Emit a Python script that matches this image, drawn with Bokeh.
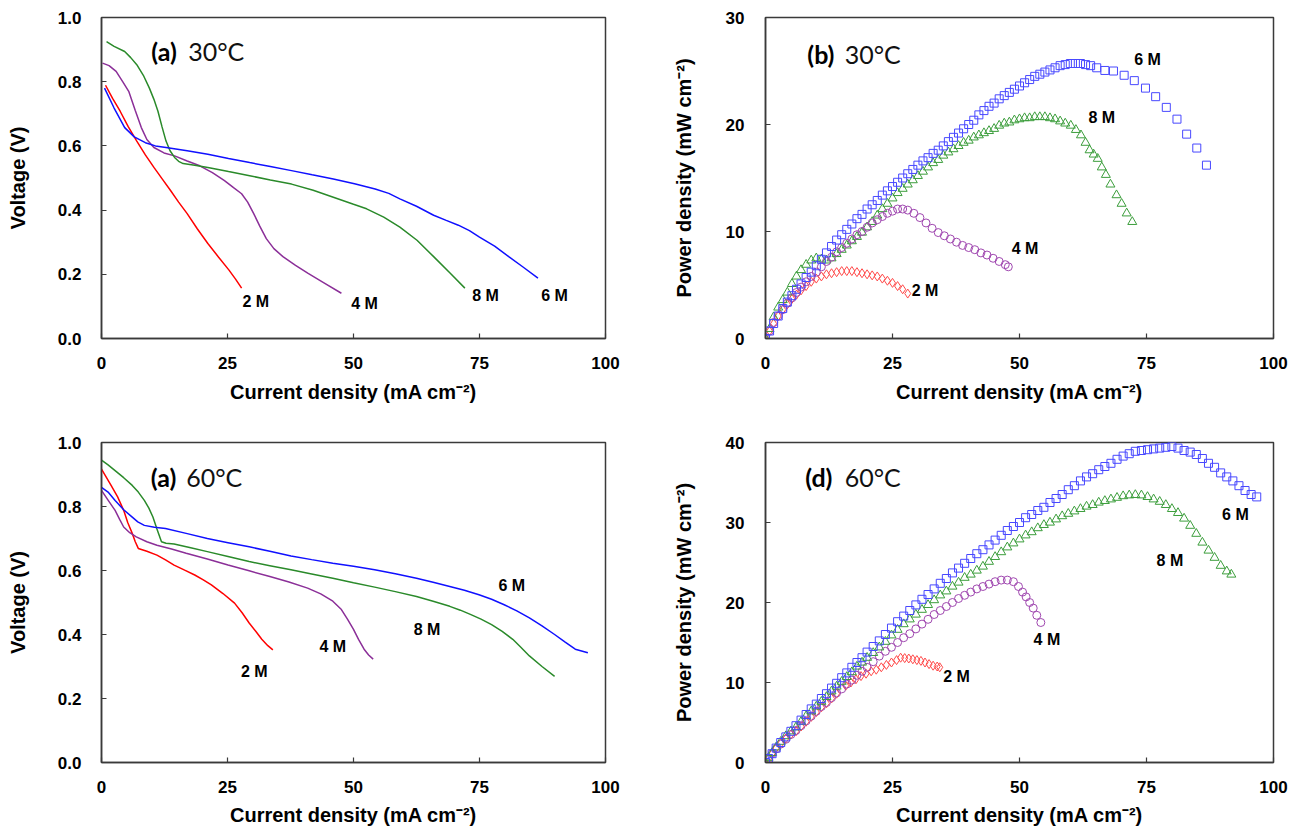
from bokeh.plotting import figure
from bokeh.layouts import column, row
from bokeh.models import Range1d, FixedTicker, PrintfTickFormatter
from bokeh.core.properties import value
from bokeh.embed import file_html
from bokeh.resources import INLINE

# ---------------- data: panel (a) 30 C, voltage curves ----------------
A30_2M_J = [0.8, 2.2, 3.7, 5.3, 7.0, 8.7, 10.4, 12.0, 13.7, 15.3, 17.0, 19.0, 21.1, 23.2, 25.3, 26.6, 27.8]
A30_2M_V = [0.789, 0.748, 0.708, 0.660, 0.615, 0.572, 0.533, 0.498, 0.461, 0.425, 0.389, 0.342, 0.296, 0.254, 0.213, 0.185, 0.157]
A30_4M_J = [0.2, 1.5, 2.9, 4.2, 5.4, 6.7, 7.9, 9.0, 10.4, 12.4, 14.5, 17.0, 19.5, 22.0, 24.4, 26.2, 27.8,
            29.0, 30.2, 31.4, 32.7, 34.2, 36.0, 38.5, 41.0, 44.3, 47.6]
A30_4M_V = [0.858, 0.850, 0.832, 0.800, 0.770, 0.710, 0.657, 0.620, 0.595, 0.578, 0.569, 0.553, 0.538, 0.517,
            0.492, 0.470, 0.451, 0.425, 0.389, 0.350, 0.311, 0.280, 0.255, 0.228, 0.203, 0.172, 0.141]
A30_6M_J = [0.6, 2.5, 4.6, 6.5, 8.7, 10.7, 12.8, 17.0, 21.1, 25.2, 29.4, 33.5, 37.7, 41.8, 46.0, 50.2, 54.3,
            57.0, 59.2, 62.5, 65.9, 68.4, 70.8, 73.0, 75.0, 78.0, 80.8, 83.7, 86.6]
A30_6M_V = [0.780, 0.718, 0.657, 0.628, 0.610, 0.600, 0.595, 0.585, 0.574, 0.561, 0.548, 0.536, 0.523, 0.510,
            0.497, 0.482, 0.466, 0.452, 0.435, 0.412, 0.384, 0.368, 0.353, 0.336, 0.316, 0.288, 0.255, 0.222, 0.188]
A30_8M_J = [1.0, 2.5, 4.6, 5.8, 7.0, 8.3, 9.5, 10.4, 11.2, 12.0, 12.8, 13.6, 14.5, 15.3, 16.2, 18.5, 21.1,
            25.2, 29.4, 33.5, 37.7, 42.0, 46.0, 50.0, 52.6, 56.0, 59.2, 62.6, 65.9, 69.2, 72.1]
A30_8M_V = [0.925, 0.910, 0.894, 0.875, 0.853, 0.820, 0.780, 0.745, 0.708, 0.660, 0.615, 0.585, 0.564, 0.552,
            0.545, 0.540, 0.533, 0.520, 0.507, 0.494, 0.481, 0.462, 0.440, 0.418, 0.404, 0.378, 0.347, 0.306,
            0.255, 0.203, 0.157]

# ---------------- data: panel (c) 60 C, voltage curves ----------------
C60_2M_J = [0.0, 1.9, 3.2, 4.4, 5.2, 6.1, 6.7, 7.3, 9.0, 11.0, 12.7, 14.4, 16.5, 18.5, 20.2, 21.8, 24.1,
            26.4, 27.9, 29.3, 30.6, 31.8, 33.0, 34.0]
C60_2M_V = [0.917, 0.866, 0.830, 0.788, 0.750, 0.716, 0.690, 0.669, 0.660, 0.648, 0.633, 0.617, 0.601, 0.586,
            0.571, 0.555, 0.528, 0.498, 0.468, 0.436, 0.410, 0.385, 0.365, 0.352]
C60_4M_J = [0.0, 1.3, 2.7, 3.6, 4.4, 5.6, 6.9, 9.0, 11.0, 13.9, 16.8, 21.0, 25.1, 29.3, 33.4, 37.2, 40.9,
            43.5, 45.9, 47.6, 48.8, 50.0, 51.0, 52.1, 53.0, 53.9]
C60_4M_V = [0.850, 0.820, 0.788, 0.760, 0.736, 0.718, 0.705, 0.690, 0.679, 0.667, 0.654, 0.636, 0.617, 0.599,
            0.581, 0.564, 0.545, 0.527, 0.504, 0.478, 0.448, 0.416, 0.385, 0.354, 0.336, 0.323]
C60_6M_J = [0.0, 1.3, 2.7, 4.4, 6.1, 7.2, 8.5, 10.5, 12.7, 16.8, 21.0, 25.1, 29.3, 33.4, 37.6, 41.7, 45.9,
            50.0, 54.2, 58.3, 62.5, 65.8, 69.1, 72.0, 74.9, 77.4, 79.9, 82.4, 84.9, 87.4, 89.9, 92.0, 94.0, 96.5]
C60_6M_V = [0.860, 0.845, 0.819, 0.790, 0.767, 0.752, 0.741, 0.735, 0.731, 0.716, 0.700, 0.687, 0.674, 0.660,
            0.645, 0.634, 0.623, 0.613, 0.602, 0.590, 0.576, 0.563, 0.550, 0.538, 0.524, 0.510, 0.493, 0.474,
            0.452, 0.427, 0.400, 0.376, 0.354, 0.343]
C60_8M_J = [0.0, 1.3, 2.7, 4.4, 6.1, 7.3, 8.5, 9.4, 10.2, 11.0, 11.9, 12.8, 14.4, 17.7, 21.0, 25.1, 29.3,
            33.4, 37.6, 41.7, 45.9, 50.0, 54.2, 58.3, 62.5, 65.8, 69.1, 71.2, 73.3, 75.3, 77.4, 79.5, 81.6,
            83.2, 84.9, 87.4, 89.9]
C60_8M_V = [0.945, 0.930, 0.912, 0.890, 0.866, 0.845, 0.819, 0.795, 0.767, 0.730, 0.690, 0.685, 0.683, 0.671,
            0.659, 0.644, 0.628, 0.615, 0.602, 0.589, 0.576, 0.562, 0.548, 0.534, 0.519, 0.504, 0.488, 0.476,
            0.462, 0.448, 0.431, 0.410, 0.385, 0.360, 0.333, 0.300, 0.269]

# ---------------- data: panel (b) 30 C, power density markers ----------------
B30_2M_J = [0, 0.8, 1.6, 2.5, 3.4, 4.3, 5.2, 6.1, 7.0, 8.0, 9.0, 10.0, 11.0, 12.0, 13.0, 14.0, 15.0,
            16.0, 17.0, 18.0, 19.0, 20.0, 21.0, 22.0, 23.0, 24.0, 25.0, 26.0, 27.0, 28.0]
B30_2M_P = [0, 0.7, 1.4, 2.1, 2.7, 3.2, 3.7, 4.1, 4.5, 4.9, 5.3, 5.6, 5.8, 6.0, 6.1, 6.2, 6.3,
            6.3, 6.3, 6.2, 6.1, 6.0, 5.9, 5.8, 5.6, 5.4, 5.2, 4.9, 4.6, 4.2]
B30_4M_J = [0, 0.8, 1.6, 2.5, 3.4, 4.3, 5.2, 6.1, 7.0, 8.0, 9.0, 10.0, 11.0, 12.0, 13.0, 14.0, 15.0, 16.0,
            17.0, 18.0, 19.0, 20.0, 21.0, 22.0, 23.0, 24.0, 25.0, 26.0, 27.0, 28.0, 29.2, 30.4, 31.6, 32.8,
            34.0, 35.2, 36.4, 37.6, 38.8, 40.0, 41.2, 42.4, 43.6, 44.8, 46.0, 47.2, 47.8]
B30_4M_P = [0, 0.7, 1.5, 2.1, 2.7, 3.3, 3.8, 4.3, 4.8, 5.3, 5.8, 6.2, 6.7, 7.2, 7.6, 8.1, 8.5, 8.9,
            9.3, 9.7, 10.0, 10.4, 10.8, 11.1, 11.4, 11.7, 11.9, 12.1, 12.1, 12.0, 11.7, 11.3, 10.8, 10.3,
            9.9, 9.6, 9.3, 9.0, 8.7, 8.5, 8.3, 8.0, 7.8, 7.5, 7.2, 6.9, 6.7]
B30_6M_J = [0, 0.8, 1.6, 2.5, 3.4, 4.3, 5.2, 6.1, 7.0, 8.0, 9.0, 10.0, 11.0, 12.0, 13.0, 14.0, 15.0, 16.0,
            17.0, 18.0, 19.0, 20.0, 21.0, 22.0, 23.0, 24.0, 25.0, 26.0, 27.0, 28.0, 29.0, 30.0, 31.0, 32.0,
            33.0, 34.0, 35.0, 36.0, 37.0, 38.0, 39.0, 40.0, 41.0, 42.0, 43.0, 44.0, 45.0, 46.0, 47.0, 48.0,
            49.0, 50.0, 51.0, 52.0, 53.0, 54.0, 55.0, 56.0, 57.0, 58.0, 59.0, 60.0, 61.0, 62.0, 63.0, 64.0,
            65.2, 66.8, 68.5, 70.6, 72.6, 74.8, 76.8, 78.9, 81.0, 82.9, 84.9, 86.8]
B30_6M_P = [0, 0.7, 1.4, 2.1, 2.8, 3.4, 4.0, 4.6, 5.1, 5.7, 6.2, 6.8, 7.4, 8.0, 8.6, 9.2, 9.7, 10.2,
            10.7, 11.2, 11.6, 12.1, 12.5, 12.9, 13.4, 13.8, 14.2, 14.6, 15.0, 15.4, 15.8, 16.2, 16.6, 16.9,
            17.3, 17.6, 18.0, 18.4, 18.8, 19.2, 19.6, 20.0, 20.4, 20.9, 21.3, 21.7, 22.0, 22.4, 22.7, 23.0,
            23.3, 23.6, 23.9, 24.2, 24.5, 24.7, 24.9, 25.1, 25.3, 25.5, 25.6, 25.7, 25.7, 25.7, 25.6, 25.5,
            25.3, 25.05, 25.0, 24.6, 24.1, 23.4, 22.6, 21.6, 20.5, 19.1, 17.8, 16.2]
B30_8M_J = [0, 0.8, 1.6, 2.5, 3.4, 4.3, 5.2, 6.1, 7.0, 8.0, 9.0, 10.0, 11.0, 12.0, 13.0, 14.0, 15.0, 16.0,
            17.0, 18.0, 19.0, 20.0, 21.0, 22.0, 23.0, 24.0, 25.0, 26.0, 27.0, 28.0, 29.0, 30.0, 31.0, 32.0,
            33.0, 34.0, 35.0, 36.0, 37.0, 38.0, 39.0, 40.0, 41.0, 42.0, 43.0, 44.0, 45.0, 46.0, 47.0, 48.0,
            49.0, 50.0, 51.0, 52.0, 53.0, 54.0, 55.0, 56.0, 57.0, 58.0, 59.0, 60.1, 61.1, 62.1, 63.0, 63.8,
            64.6, 65.4, 66.2, 67.0, 67.9, 69.1, 70.1, 71.1, 72.2]
B30_8M_P = [0, 0.9, 2.0, 2.9, 3.6, 4.3, 5.1, 5.8, 6.4, 6.9, 7.3, 7.5, 7.4, 7.3, 7.5, 7.9, 8.3, 8.7,
            9.1, 9.5, 9.9, 10.4, 10.9, 11.5, 12.1, 12.6, 13.1, 13.6, 14.0, 14.4, 14.8, 15.2, 15.6, 16.0,
            16.4, 16.7, 17.1, 17.4, 17.7, 18.0, 18.3, 18.5, 18.8, 19.0, 19.2, 19.4, 19.6, 19.9, 20.1, 20.2,
            20.4, 20.5, 20.6, 20.6, 20.7, 20.7, 20.7, 20.6, 20.5, 20.3, 20.1, 19.9, 19.5, 19.0, 18.3, 17.6,
            17.2, 16.8, 16.0, 15.3, 14.4, 13.4, 12.6, 11.7, 10.9]

# ---------------- data: panel (d) 60 C, power density markers ----------------
D60_2M_J = [0, 0.6, 1.3, 2.1, 3.0, 4.0, 5.0, 6.0, 7.0, 8.0, 9.0, 10.0, 11.0, 12.0, 13.0, 14.0, 15.8,
            16.8, 17.8, 18.8, 19.8, 20.8, 21.8, 22.8, 23.8, 24.8, 25.8, 26.6, 27.4, 28.2, 29.0, 29.8,
            30.6, 31.4, 32.2, 33.0, 33.8, 34.3]
D60_2M_P = [0, 0.5, 1.1, 1.8, 2.4, 3.0, 3.5, 3.9, 4.5, 5.1, 5.7, 6.3, 6.9, 7.4, 8.0, 8.6, 9.6,
            10.0, 10.4, 10.8, 11.1, 11.4, 11.6, 11.9, 12.2, 12.5, 12.8, 13.1, 13.05, 13.0, 12.9, 12.8,
            12.7, 12.5, 12.3, 12.1, 12.0, 11.9]
D60_4M_J = [0, 0.6, 1.3, 2.1, 3.0, 4.0, 5.0, 6.0, 7.0, 8.0, 9.0, 10.0, 11.0, 12.0, 13.0, 14.0, 15.0,
            16.0, 17.0, 18.0, 19.0, 20.0, 21.2, 22.4, 23.6, 24.8, 26.0, 27.2, 28.4, 29.6, 30.8, 32.0,
            33.2, 34.4, 35.6, 36.8, 38.0, 39.2, 40.4, 41.6, 42.8, 44.0, 45.2, 46.4, 47.6, 48.8, 49.8,
            50.6, 51.3, 52.0, 52.7, 53.4, 54.2]
D60_4M_P = [0, 0.5, 1.1, 1.7, 2.3, 2.9, 3.5, 4.0, 4.6, 5.2, 5.8, 6.4, 7.0, 7.5, 8.1, 8.7, 9.2,
            9.8, 10.3, 10.9, 11.4, 11.9, 12.6, 13.3, 13.9, 14.4, 15.0, 15.6, 16.1, 16.7, 17.3, 17.9,
            18.5, 19.0, 19.5, 20.0, 20.5, 20.9, 21.3, 21.7, 22.0, 22.3, 22.6, 22.8, 22.8, 22.6, 22.0,
            21.3, 20.7, 20.0, 19.3, 18.4, 17.5]
D60_6M_J = [0, 0.6, 1.3, 2.1, 3.0, 4.0, 5.0, 6.0, 7.0, 8.0, 9.0, 10.0, 11.0, 12.0, 13.0, 14.0, 15.0,
            16.0, 17.0, 18.0, 19.0, 20.0, 21.2, 22.4, 23.6, 24.8, 26.0, 27.2, 28.4, 29.6, 30.8, 32.0,
            33.2, 34.4, 35.6, 36.8, 38.0, 39.2, 40.4, 41.6, 42.8, 44.0, 45.2, 46.4, 47.6, 48.8, 50.0,
            51.2, 52.4, 53.6, 54.8, 56.0, 57.2, 58.4, 59.6, 60.8, 62.0, 63.2, 64.4, 65.6, 66.8, 68.0,
            69.2, 70.4, 71.6, 72.8, 74.0, 75.2, 76.4, 77.6, 78.8, 80.0, 81.2, 82.4, 83.6, 84.8, 86.0,
            87.2, 88.4, 89.6, 90.8, 92.0, 93.2, 94.4, 95.6, 96.7]
D60_6M_P = [0, 0.5, 1.1, 1.8, 2.5, 3.2, 3.9, 4.6, 5.3, 6.0, 6.7, 7.3, 8.0, 8.6, 9.3, 9.9, 10.6,
            11.2, 11.9, 12.5, 13.1, 13.8, 14.5, 15.2, 16.0, 16.8, 17.6, 18.3, 19.0, 19.7, 20.4, 21.0,
            21.7, 22.4, 23.0, 23.7, 24.3, 24.9, 25.5, 26.1, 26.6, 27.2, 27.8, 28.4, 29.0, 29.5, 30.0,
            30.6, 31.0, 31.5, 31.9, 32.5, 33.0, 33.5, 34.1, 34.6, 35.2, 35.7, 36.1, 36.6, 37.0, 37.4,
            37.9, 38.3, 38.6, 38.9, 39.0, 39.1, 39.2, 39.3, 39.4, 39.5, 39.3, 39.0, 38.8, 38.5, 38.0,
            37.4, 36.9, 36.2, 35.7, 35.2, 34.6, 34.0, 33.5, 33.2]
D60_8M_J = [0, 0.6, 1.3, 2.1, 3.0, 4.0, 5.0, 6.0, 7.0, 8.0, 9.0, 10.0, 11.0, 12.0, 13.0, 14.0, 15.0,
            16.0, 17.0, 18.0, 19.0, 20.0, 21.2, 22.4, 23.6, 24.8, 26.0, 27.2, 28.4, 29.6, 30.8, 32.0,
            33.2, 34.4, 35.6, 36.8, 38.0, 39.2, 40.4, 41.6, 42.8, 44.0, 45.2, 46.4, 47.6, 48.8, 50.0,
            51.2, 52.4, 53.6, 54.8, 56.0, 57.2, 58.4, 59.6, 60.8, 62.0, 63.2, 64.4, 65.6, 66.8, 68.0,
            69.2, 70.4, 71.6, 72.8, 74.0, 75.2, 76.4, 77.6, 78.8, 80.0, 81.2, 82.4, 83.6, 84.8, 86.0,
            87.2, 88.4, 89.6, 90.8, 91.7]
D60_8M_P = [0, 0.6, 1.2, 1.9, 2.6, 3.3, 3.9, 4.4, 5.1, 5.8, 6.4, 7.0, 7.6, 8.2, 8.9, 9.5, 10.1,
            10.7, 11.3, 12.0, 12.5, 13.1, 13.7, 14.4, 15.1, 15.9, 16.6, 17.3, 17.9, 18.5, 19.1, 19.7,
            20.3, 20.9, 21.4, 22.0, 22.5, 23.1, 23.5, 24.0, 24.5, 25.1, 25.7, 26.3, 26.9, 27.4, 27.9,
            28.4, 28.8, 29.3, 29.7, 30.0, 30.4, 30.8, 31.1, 31.4, 31.7, 32.0, 32.2, 32.5, 32.7, 32.9,
            33.1, 33.3, 33.4, 33.45, 33.4, 33.2, 32.9, 32.6, 32.2, 31.7, 31.2, 30.5, 29.6, 28.6, 27.5,
            26.5, 25.6, 24.6, 23.9, 23.5]

# ---------------- text / ticks ----------------
X_TICKS = [0, 25, 50, 75, 100]
V_TICKS = [0.0, 0.2, 0.4, 0.6, 0.8, 1.0]
P30_TICKS = [0, 10, 20, 30]
P60_TICKS = [0, 10, 20, 30, 40]
SERIES = ["2 M", "4 M", "6 M", "8 M"]
X_LABEL = "Current density (mA cm\u207b\u00b2)"
V_LABEL = "Voltage (V)"
P_LABEL = "Power density (mW cm\u207b\u00b2)"

# label anchor positions (data coordinates) for the 2/4/6/8 M annotations
A30_LBL_X = [30.6, 52.2, 89.9, 76.2]
A30_LBL_Y = [0.115, 0.108, 0.134, 0.134]
C60_LBL_X = [30.3, 45.9, 81.4, 64.6]
C60_LBL_Y = [0.284, 0.364, 0.553, 0.416]
B30_LBL_X = [31.4, 51.1, 75.2, 66.2]
B30_LBL_Y = [4.5, 8.4, 26.1, 20.7]
D60_LBL_X = [37.6, 55.4, 92.5, 79.6]
D60_LBL_Y = [10.8, 15.4, 31.0, 25.3]

LINE_COLORS = ["#FF0000", "#8B2F98", "#1010FF", "#2A8A2A"]
MARK_COLORS = ["#FF4A4A", "#A048B0", "#4848FF", "#3C9E3C"]
AXIS_COLOR = "#3a3a3a"
FONT = "Liberation Sans"


def make_fig(width, height, borders, y_end, y_ticks, y_fmt, y_label, std):
    p = figure(width=width, height=height, output_backend="svg", toolbar_location=None,
               x_range=Range1d(0, 100), y_range=Range1d(0, y_end),
               min_border_left=borders[0], min_border_right=borders[1],
               min_border_top=borders[2], min_border_bottom=borders[3])
    p.xgrid.visible = False
    p.ygrid.visible = False
    p.background_fill_color = "white"
    p.border_fill_color = "white"
    p.outline_line_color = AXIS_COLOR
    p.outline_line_width = 1.5
    p.outline_line_alpha = 1.0
    for ax in (p.xaxis[0], p.yaxis[0]):
        ax.axis_line_color = AXIS_COLOR
        ax.axis_line_width = 1.5
        ax.major_tick_in = 5
        ax.major_tick_out = 0
        ax.major_tick_line_color = AXIS_COLOR
        ax.major_tick_line_width = 1.2
        ax.minor_tick_line_color = None
        ax.major_label_text_font = FONT
        ax.major_label_text_font_style = "bold"
        ax.major_label_text_font_size = "17px"
        ax.major_label_text_color = "black"
        ax.axis_label_text_font = FONT
        ax.axis_label_text_font_style = "bold"
        ax.axis_label_text_font_size = "20px"
        ax.axis_label_text_color = "black"
    p.xaxis.ticker = FixedTicker(ticks=X_TICKS)
    p.yaxis.ticker = FixedTicker(ticks=y_ticks)
    p.yaxis.formatter = PrintfTickFormatter(format=y_fmt)
    p.xaxis.axis_label = X_LABEL
    p.yaxis.axis_label = y_label
    p.xaxis.major_label_standoff = std[0]
    p.xaxis.axis_label_standoff = std[1]
    p.yaxis.major_label_standoff = std[2]
    p.yaxis.axis_label_standoff = std[3]
    return p


def add_labels(p, xs, ys, size="16px"):
    p.text(x=xs, y=ys, text=SERIES, text_font=value(FONT), text_font_style="bold",
           text_font_size=size, text_align="center", text_baseline="middle", text_color="black")


def add_title(p, tag_x, val_x, y, tag, temp):
    p.text(x=[tag_x], y=[y], text=[tag], text_font=value("Lato"), text_font_style="bold",
           text_font_size="25px", text_align="center", text_baseline="middle", text_color="black")
    p.text(x=[val_x], y=[y], text=[temp], text_font=value("Lato"), text_font_style="normal",
           text_font_size="25px", text_align="left", text_baseline="middle", text_color="#111111")


# ---------- (a) 30 C voltage ----------
pa = make_fig(640, 416, (101, 35, 16, 78), 1.0, V_TICKS, "%.1f", V_LABEL, (18, 9, 20, 26))
for J, V, c in [(A30_2M_J, A30_2M_V, LINE_COLORS[0]), (A30_4M_J, A30_4M_V, LINE_COLORS[1]),
                (A30_8M_J, A30_8M_V, LINE_COLORS[3]), (A30_6M_J, A30_6M_V, LINE_COLORS[2])]:
    pa.line(J, V, line_color=c, line_width=1.5)
add_labels(pa, A30_LBL_X, A30_LBL_Y)
add_title(pa, 12.4, 17.2, 0.896, "(a)", "30\u00b0C")

# ---------- (b) 30 C power ----------
pb = make_fig(650, 416, (125, 17, 17, 76), 30, P30_TICKS, "%d", P_LABEL, (18, 9, 21, 28))
pb.scatter(B30_2M_J, B30_2M_P, marker="diamond", size=9, fill_color=None, line_color=MARK_COLORS[0], line_width=1)
pb.scatter(B30_8M_J, B30_8M_P, marker="triangle", size=9, fill_color=None, line_color=MARK_COLORS[3], line_width=1)
pb.scatter(B30_4M_J, B30_4M_P, marker="circle", size=8, fill_color=None, line_color=MARK_COLORS[1], line_width=1)
pb.scatter(B30_6M_J, B30_6M_P, marker="square", size=8, fill_color=None, line_color=MARK_COLORS[2], line_width=1)
add_labels(pb, B30_LBL_X, B30_LBL_Y)
add_title(pb, 10.9, 15.6, 26.6, "(b)", "30\u00b0C")

# ---------- (c) 60 C voltage ----------
pc = make_fig(640, 415, (101, 35, 26, 69), 1.0, V_TICKS, "%.1f", V_LABEL, (18, 8, 20, 26))
for J, V, c in [(C60_2M_J, C60_2M_V, LINE_COLORS[0]), (C60_4M_J, C60_4M_V, LINE_COLORS[1]),
                (C60_8M_J, C60_8M_V, LINE_COLORS[3]), (C60_6M_J, C60_6M_V, LINE_COLORS[2])]:
    pc.line(J, V, line_color=c, line_width=1.5)
add_labels(pc, C60_LBL_X, C60_LBL_Y)
add_title(pc, 12.3, 16.8, 0.891, "(a)", "60\u00b0C")

# ---------- (d) 60 C power ----------
pd = make_fig(650, 415, (125, 17, 25, 69), 40, P60_TICKS, "%d", P_LABEL, (18, 8, 21, 28))
pd.scatter(D60_2M_J, D60_2M_P, marker="diamond", size=9, fill_color=None, line_color=MARK_COLORS[0], line_width=1)
pd.scatter(D60_4M_J, D60_4M_P, marker="circle", size=8, fill_color=None, line_color=MARK_COLORS[1], line_width=1)
pd.scatter(D60_8M_J, D60_8M_P, marker="triangle", size=9, fill_color=None, line_color=MARK_COLORS[3], line_width=1)
pd.scatter(D60_6M_J, D60_6M_P, marker="square", size=8, fill_color=None, line_color=MARK_COLORS[2], line_width=1)
add_labels(pd, D60_LBL_X, D60_LBL_Y)
add_title(pd, 10.5, 15.6, 35.7, "(d)", "60\u00b0C")

layout = column(row(pa, pb), row(pc, pd))
open("out.html", "w").write(file_html(layout, INLINE))
